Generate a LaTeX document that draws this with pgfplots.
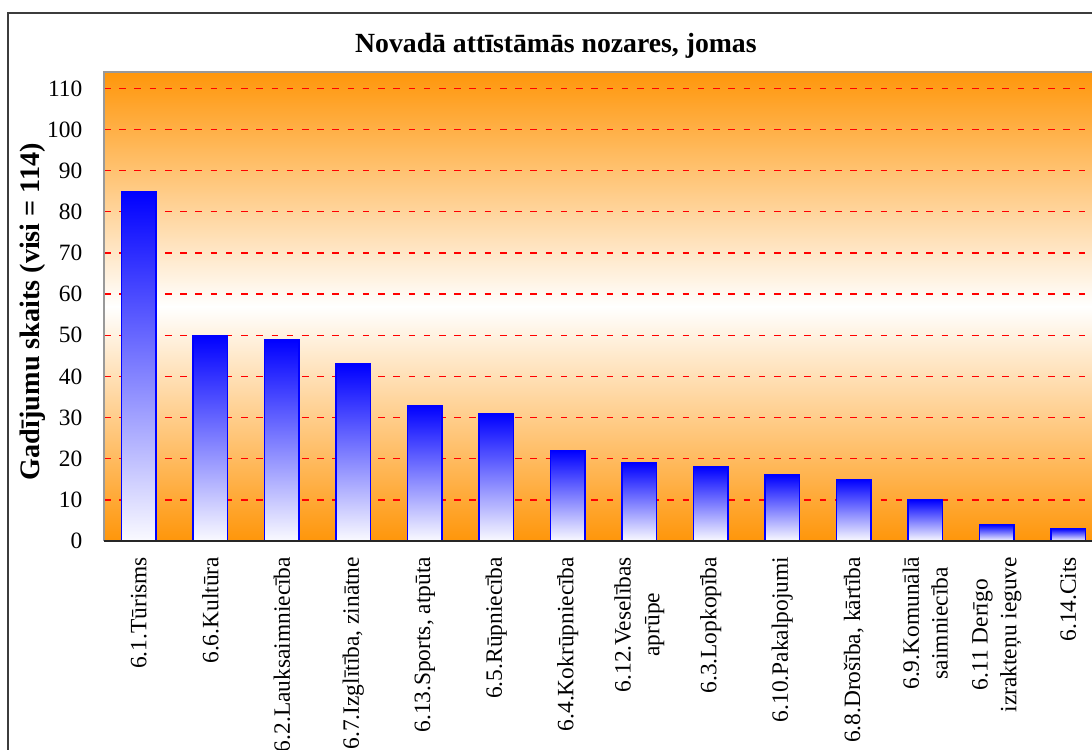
\documentclass[border=0pt]{standalone}
\usepackage{fontspec}
\setmainfont{Liberation Serif}
\usepackage{pgfplots}
\pgfplotsset{compat=1.18}

\definecolor{bgorange}{RGB}{255,150,10}
\definecolor{framegray}{RGB}{60,60,60}
\definecolor{barwhite}{RGB}{250,250,255}

% counts per sector, already sorted
\pgfplotstableread{
idx value
0 85
1 50
2 49
3 43
4 33
5 31
6 22
7 19
8 18
9 16
10 15
11 10
12 4
13 3
}\nozares

\begin{document}
\begin{tikzpicture}
  % page = 1092 x 749 px at 0.44pt per px
  \useasboundingbox (0,0) rectangle (480.48pt,329.56pt);
  \clip (0,0) rectangle (480.48pt,329.56pt);
  % outer chart frame (runs past the right and bottom edges)
  \draw[framegray, line width=0.7pt] (3.5pt,-20pt) -- (3.5pt,323.8pt) -- (490pt,323.8pt);
  \node[font=\bfseries\fontsize{12.2}{14}\selectfont] at (244.6pt,309.6pt)
    {Novadā attīstāmās nozares, jomas};
  \node[rotate=90, font=\bfseries\fontsize{12.4}{14}\selectfont] at (14.5pt,192.5pt)
    {Gadījumu skaits (visi = 114)};

  \begin{axis}[
    at={(45.76pt,91.52pt)}, anchor=south west,
    scale only axis,
    width=439.6pt, height=206.4pt,
    xmin=-0.487, xmax=13.487,
    ymin=0, ymax=114,
    ybar, bar width=15.2pt,
    xtick={0,...,13},
    xticklabels={6.1.Tūrisms, 6.6.Kultūra, 6.2.Lauksaimniecība,
      {6.7.Izglītība, zinātne}, {6.13.Sports, atpūta}, 6.5.Rūpniecība,
      6.4.Kokrūpniecība, {6.12.Veselības\\aprūpe}, 6.3.Lopkopība,
      6.10.Pakalpojumi, {6.8.Drošība, kārtība}, {6.9.Komunālā\\saimniecība},
      {6.11 Derīgo\\izrakteņu ieguve}, 6.14.Cits},
    xticklabel style={rotate=90, anchor=east, align=center,
      font=\fontsize{10.3}{12.6}\selectfont},
    xticklabel shift=3.5pt,
    ytick={0,10,...,110},
    yticklabel style={font=\fontsize{10.3}{12}\selectfont},
    yticklabel shift=6pt,
    /pgf/number format/assume math mode=true,
    major tick length=0pt,
    ymajorgrids,
    grid style={red, line width=0.6pt, dash pattern=on 2.9pt off 3.8pt},
    axis line style={draw=none},
    axis background/.style={shade, top color=bgorange,
      bottom color=bgorange, middle color=white},
    clip=false,
  ]
    % one plot per bar so each bar gets its own gradient
    \pgfplotsinvokeforeach{0,...,13}{
      \addplot[draw=blue, line width=0.6pt, top color=blue,
        bottom color=barwhite, bar shift=0pt,
        restrict x to domain=#1:#1]
        table[x=idx, y=value] {\nozares};
    }
    % plot-area border
    \draw[gray!80, line width=0.6pt] (rel axis cs:0,0) -- (rel axis cs:0,1)
      -- (rel axis cs:1,1);
    \draw[black!85, line width=0.6pt] (rel axis cs:0,0) -- (rel axis cs:1,0);
  \end{axis}
\end{tikzpicture}
\end{document}
